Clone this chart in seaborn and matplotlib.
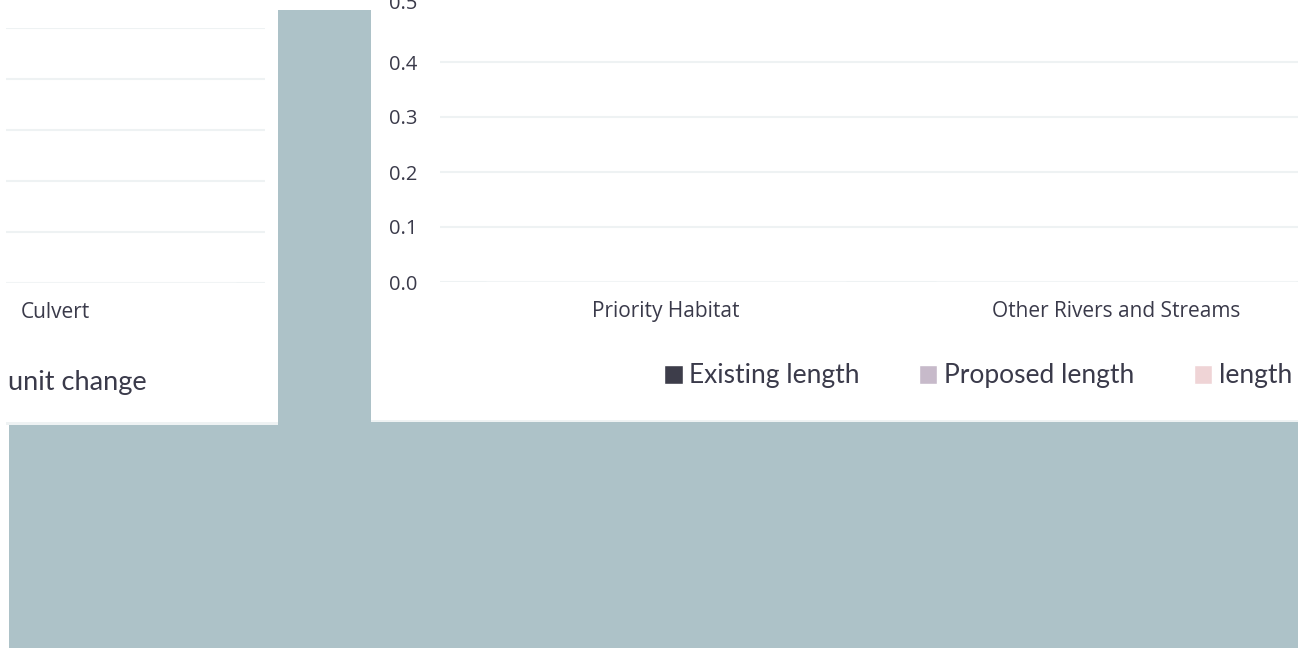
import matplotlib
matplotlib.use("Agg")
import matplotlib.pyplot as plt
from matplotlib.patches import Rectangle
import seaborn as sns
import pandas as pd

# data (every bar is zero, so nothing shows above the baseline)
habitats = ["Priority Habitat", "Other Rivers and Streams"]
existing_length = [0.0, 0.0]
proposed_length = [0.0, 0.0]
change_length = [0.0, 0.0]
series_names = ["Existing length", "Proposed length", "length"]
series_colors = ["#3b3b4c", "#c9b8cc", "#f3d0d2"]
culvert_cats = ["Culvert"]
culvert_units = [0.0]
y_ticks = [0.0, 0.1, 0.2, 0.3, 0.4]

W, H = 1309, 651
text_col = "#3a3a4a"
grid_col = "#eef2f3"
band_col = "#adc2c8"

sns.set_theme(style="white")
plt.rcParams["font.family"] = ["Open Sans", "DejaVu Sans"]

fig = plt.figure(figsize=(W / 100, H / 100), dpi=100)
fig.patch.set_facecolor("white")


def box(x0, y0, x1, y1):
    # pixel box (top-left origin) -> figure fraction rect
    return [x0 / W, 1 - y1 / H, (x1 - x0) / W, (y1 - y0) / H]


def panel(x0, y0, x1, y1, color):
    r = Rectangle((x0 / W, 1 - y1 / H), (x1 - x0) / W, (y1 - y0) / H,
                  transform=fig.transFigure, facecolor=color, edgecolor="none", zorder=0)
    fig.patches.append(r)


# grey-blue frame pieces behind the charts
panel(278, 10, 371, 425, band_col)
panel(9, 422, 1298, 648, band_col)
panel(6, 422, 278, 425, grid_col)
panel(371, 420, 1298, 422, grid_col)

# left chart fragment
axl = fig.add_axes(box(6, 28, 265, 283))
sns.barplot(x=culvert_cats, y=culvert_units, color=series_colors[0], ax=axl)
axl.set_ylim(0, 5)
axl.set_yticks(range(6))
axl.set_yticklabels([])
axl.set_xlim(-0.109, 0.465)
axl.grid(axis="y", color=grid_col, linewidth=1.5)
axl.tick_params(axis="x", length=0, pad=14, labelsize=15, labelcolor=text_col)
axl.tick_params(axis="y", length=0)
axl.set_facecolor("none")
sns.despine(ax=axl, left=True, bottom=True)

# right chart
df = pd.DataFrame({
    "habitat": habitats * 3,
    "series": [s for s in series_names for _ in habitats],
    "value": existing_length + proposed_length + change_length,
})
axr = fig.add_axes(box(440, 7, 1298, 282))
sns.barplot(data=df, x="habitat", y="value", hue="series", palette=series_colors, ax=axr)
handles, labels = axr.get_legend_handles_labels()
axr.get_legend().remove()
axr.set_xlim(-0.502, 1.404)
axr.set_ylim(0, 0.5)
axr.set_yticks(y_ticks + [0.5])
axr.set_yticklabels([f"{v:.1f}" for v in y_ticks] + [""])
axr.annotate("0.5", xy=(0, 0.5), xycoords=("axes fraction", "data"),
             xytext=(-23, 3), textcoords="offset pixels", ha="right", va="center",
             fontsize=14.5, color=text_col, annotation_clip=False)
axr.grid(axis="y", color=grid_col, linewidth=1.5)
axr.yaxis.get_gridlines()[-1].set_visible(False)
axr.tick_params(axis="x", length=0, pad=14, labelsize=15, labelcolor=text_col)
axr.tick_params(axis="y", length=0, pad=16.5, labelsize=14.5, labelcolor=text_col)
axr.set_xlabel("")
axr.set_ylabel("")
axr.set_facecolor("none")
sns.despine(ax=axr, left=True, bottom=True)

fig.legend(handles, labels, loc="center right", bbox_to_anchor=(1292 / W, 1 - 376 / H),
           ncol=3, frameon=False, prop={"family": "Lato", "size": 19}, labelcolor=text_col,
           handlelength=0.7, handleheight=0.7, handletextpad=0.25, columnspacing=2.25,
           borderpad=0, borderaxespad=0)

fig.text(8 / W, 1 - 390 / H, "unit change", family="Lato", fontsize=19.5,
         color=text_col, va="baseline", ha="left")

fig.savefig("out.png", dpi=100)
